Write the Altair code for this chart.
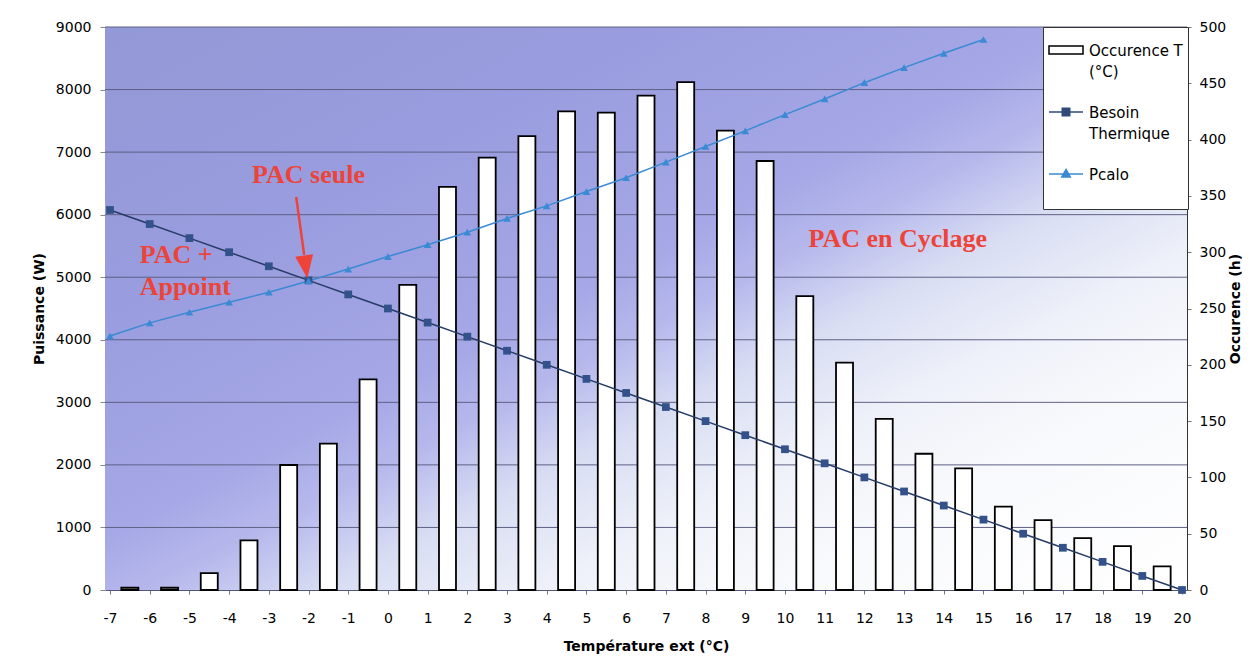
import altair as alt
import pandas as pd

# ---------------- data ----------------
temps = [-7, -6, -5, -4, -3, -2, -1, 0, 1, 2, 3, 4, 5, 6, 7, 8, 9, 10,
         11, 12, 13, 14, 15, 16, 17, 18, 19, 20]
besoin = [6075, 5850, 5625, 5400, 5175, 4950, 4725, 4500, 4275, 4050, 3825,
          3600, 3375, 3150, 2925, 2700, 2475, 2250, 2025, 1800, 1575, 1350,
          1125, 900, 675, 450, 225, 0]

pcalo_temps = [-7, -6, -5, -4, -3, -2, -1, 0, 1, 2, 3, 4, 5, 6, 7, 8, 9,
               10, 11, 12, 13, 14, 15]
pcalo = [4060, 4270, 4440, 4600, 4760, 4940, 5130, 5330, 5520, 5720, 5940,
         6140, 6370, 6590, 6840, 7090, 7340, 7600, 7850, 8110, 8350, 8580, 8800]

occ_from = [-7, -6, -5, -4, -3, -2, -1, 0, 1, 2, 3, 4, 5, 6, 7, 8, 9, 10,
            11, 12, 13, 14, 15, 16, 17, 18, 19]
occurence = [2, 2, 15, 44, 111, 130, 187, 271, 358, 384, 403, 425, 424, 439,
             451, 408, 381, 261, 202, 152, 121, 108, 74, 62, 46, 39, 21]

series_names = ["Occurence T (°C)", "Besoin Thermique", "Pcalo"]
series_fill = ["#ffffff", "#2f4a7c", "#3a8ad4"]
series_stroke = ["#000000", "#2f4a7c", "#3a8ad4"]

left_ticks = [0, 1000, 2000, 3000, 4000, 5000, 6000, 7000, 8000, 9000]
right_ticks = [0, 50, 100, 150, 200, 250, 300, 350, 400, 450, 500]

center_labels = ["PAC seule", "PAC en Cyclage"]
center_T = [-2.0, 12.84]
center_W = [6505, 5488]
left_labels = ["PAC +", "Appoint"]
left_T = [-6.25, -6.25]
left_W = [5227, 4716]

arrow_T = [-2.31]
arrow_T2 = [-2.11]
arrow_W = [6282]
arrow_W2 = [5356]
head_T = [-2.07]
head_W = [5167]

# ---------------- tables ----------------
occ_df = pd.DataFrame({"from": occ_from, "occ": occurence})
occ_df["mid"] = occ_df["from"] + 0.5

besoin_df = pd.DataFrame({"T": temps, "W": besoin, "series": "Besoin Thermique"})
pcalo_df = pd.DataFrame({"T": pcalo_temps, "W": pcalo, "series": "Pcalo"})
lines_df = pd.concat([besoin_df, pcalo_df], ignore_index=True)
legend_df = pd.DataFrame({"series": series_names})
grid_df = pd.DataFrame({"v": left_ticks[1:]})
bg_df = pd.DataFrame({"a": [0]})

center_df = pd.DataFrame({"T": center_T, "W": center_W, "label": center_labels})
left_df = pd.DataFrame({"T": left_T, "W": left_W, "label": left_labels})
arrow_df = pd.DataFrame({"T": arrow_T, "T2": arrow_T2, "W": arrow_W, "W2": arrow_W2})
head_df = pd.DataFrame({"T": head_T, "W": head_W})

FONT = "DejaVu Sans"
SERIF = "Liberation Serif"
RED = "#ee4338"
LBL_DY = 6

x_scale = alt.Scale(domain=[-7, 20], nice=False, zero=False)
x_axis = alt.Axis(values=temps, labelExpr="'' + datum.value",
                  title="Température ext (°C)",
                  labelFontSize=14, labelFont=FONT, labelColor="#000000",
                  tickSize=4, tickColor="#777777", labelPadding=17 - LBL_DY,
                  domainColor="#55577a", titleFont=FONT, titleFontSize=14,
                  titleFontWeight="bold", titleColor="#000000", titlePadding=14,
                  grid=False)

left_scale = alt.Scale(domain=[0, 9000], nice=False)
left_axis = alt.Axis(orient="left", values=left_ticks, format="d",
                     title="Puissance (W)",
                     labelFontSize=14, labelFont=FONT, labelColor="#000000",
                     tickSize=5, tickColor="#888888", labelPadding=9,
                     labelOffset=-LBL_DY,
                     domain=False, grid=False, titleFont=FONT, titleFontSize=14,
                     titleFontWeight="bold", titleColor="#000000",
                     titlePadding=9)

right_scale = alt.Scale(domain=[0, 500], nice=False)
right_axis = alt.Axis(orient="right", values=right_ticks, format="d",
                      title="Occurence (h)",
                      labelFontSize=14, labelFont=FONT, labelColor="#000000",
                      tickSize=4, tickColor="#777777", labelPadding=8,
                      labelOffset=-LBL_DY,
                      domain=True, domainColor="#333333", grid=False,
                      titleFont=FONT, titleFontSize=14, titleFontWeight="bold",
                      titleColor="#000000", titleAngle=270, titleBaseline="top",
                      titlePadding=3)

SYM_BAR = "M-1,-0.24L1,-0.24L1,0.24L-1,0.24Z"
SYM_SQ = "M-1,0L1,0M-0.22,-0.22L0.22,-0.22L0.22,0.22L-0.22,0.22Z"
SYM_TRI = "M-1,0L1,0M0,-0.27L0.25,0.17L-0.25,0.17Z"
legend_shapes = [SYM_BAR, SYM_SQ, SYM_TRI]

legend = alt.Legend(
    orient="none", legendX=938, legendY=0, title=None,
    fillColor="#ffffff", strokeColor="#333333", padding=5, rowPadding=14,
    labelFont=FONT, labelFontSize=15, labelColor="#000000",
    labelBaseline="alphabetic", labelOffset=5, labelLimit=300,
    symbolSize=1156, symbolStrokeWidth=1.5, symbolOpacity=1,
    labelExpr="datum.label === 'Occurence T (°C)' ? ['Occurence T', '(°C)'] : "
              "datum.label === 'Besoin Thermique' ? ['Besoin', 'Thermique'] : "
              "['Pcalo', '']",
)


def xenc(field):
    return alt.X(field, type="quantitative", scale=x_scale, axis=x_axis)


def yleft(field):
    return alt.Y(field, type="quantitative", scale=left_scale, axis=left_axis)


gradient = alt.LinearGradient(
    gradient="linear",
    stops=[
        alt.GradientStop(color="#9398d6", offset=0),
        alt.GradientStop(color="#999cde", offset=0.25),
        alt.GradientStop(color="#a5a7e6", offset=0.45),
        alt.GradientStop(color="#b6b8ec", offset=0.52),
        alt.GradientStop(color="#d8ddf3", offset=0.6),
        alt.GradientStop(color="#eef1f9", offset=0.7),
        alt.GradientStop(color="#f8f9fc", offset=0.8),
        alt.GradientStop(color="#ffffff", offset=1),
    ],
    x1=0, y1=0, x2=1, y2=1,
)

background = alt.Chart(bg_df).mark_rect(fill=gradient).encode(
    x=alt.value(0), x2=alt.value("width"), y=alt.value(0), y2=alt.value("height"))

gridlines = alt.Chart(grid_df).mark_rule(color="#5e6084", strokeWidth=1).encode(
    y=alt.Y("v:Q", scale=left_scale, axis=None))

bars = alt.Chart(occ_df).mark_bar(
    fill="#ffffff", stroke="#000000", strokeWidth=1.8, size=17
).encode(
    x=xenc("mid"),
    y=alt.Y("occ:Q", scale=right_scale, axis=right_axis),
)

lines = alt.Chart(lines_df).mark_line(strokeWidth=1.5).encode(
    x=xenc("T"), y=yleft("W"),
    color=alt.Color("series:N",
                    scale=alt.Scale(domain=series_names[1:], range=["#263c66", "#3a8ad4"]),
                    legend=None),
)

pts_besoin = alt.Chart(besoin_df).mark_point(
    shape="square", filled=True, size=60, opacity=1, color="#33518a"
).encode(x=xenc("T"), y=yleft("W"))

pts_pcalo = alt.Chart(pcalo_df).mark_point(
    shape="triangle-up", filled=True, size=60, opacity=1, color="#3a8ad4"
).encode(x=xenc("T"), y=yleft("W"))

legend_layer = alt.Chart(legend_df).mark_point(
    filled=True, opacity=0, strokeWidth=1.5
).encode(
    fill=alt.Fill("series:N", scale=alt.Scale(domain=series_names, range=series_fill),
                  legend=legend),
    stroke=alt.Stroke("series:N", scale=alt.Scale(domain=series_names, range=series_stroke),
                      legend=legend),
    shape=alt.Shape("series:N", scale=alt.Scale(domain=series_names, range=legend_shapes),
                    legend=legend),
)

txt_center = alt.Chart(center_df).mark_text(
    font=SERIF, fontSize=26, fontWeight="bold", color=RED,
    align="center", baseline="alphabetic"
).encode(x=xenc("T"), y=yleft("W"), text="label:N")

txt_left = alt.Chart(left_df).mark_text(
    font=SERIF, fontSize=26, fontWeight="bold", color=RED,
    align="left", baseline="alphabetic"
).encode(x=xenc("T"), y=yleft("W"), text="label:N")

arrow = alt.Chart(arrow_df).mark_rule(color=RED, strokeWidth=2.5).encode(
    x=xenc("T"), x2="T2:Q", y=yleft("W"), y2="W2:Q")

head = alt.Chart(head_df).mark_point(
    shape="M-0.78,-1L0.78,-1L0,1Z", filled=True, color=RED, opacity=1,
    size=529, angle=352
).encode(x=xenc("T"), y=yleft("W"))

left_layer = alt.layer(lines, pts_besoin, pts_pcalo, txt_center, txt_left,
                       arrow, head, legend_layer)

chart = alt.layer(background, gridlines, bars, left_layer).resolve_scale(
    y="independent"
).properties(
    width=1082, height=563,
    autosize=alt.AutoSizeParams(type="none"),
    padding={"left": 97, "top": 19, "right": 55, "bottom": 72},
    background="#ffffff",
).configure(
    style={"guide-label": {"dy": LBL_DY, "lineHeight": 21}}
).configure_view(
    stroke=None
)

chart.save("out.html", embed_options={"renderer": "svg", "actions": False})
